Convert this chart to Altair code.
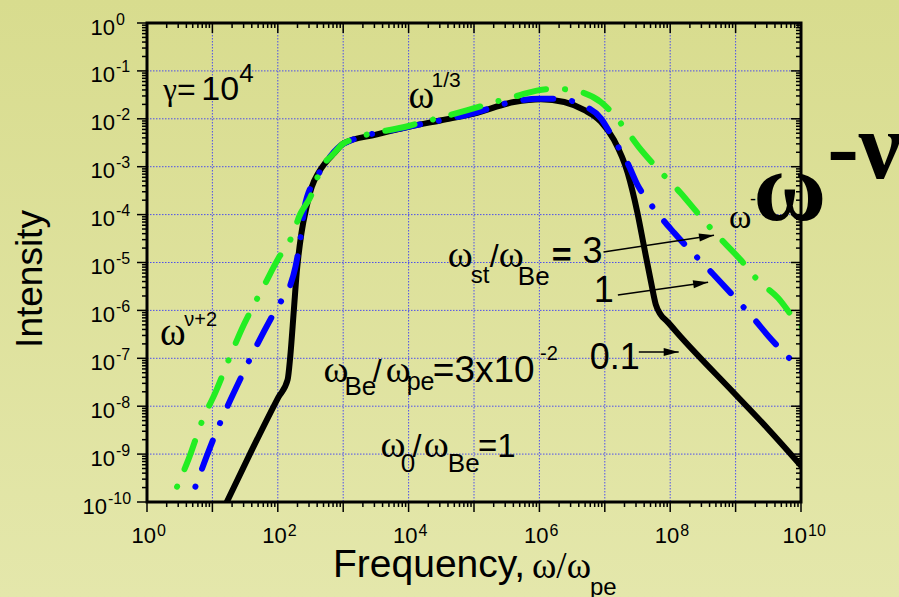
import altair as alt
import pandas as pd

# ---------------- data (log10 values) ----------------
black_logw = [1.15, 1.58, 2.01, 2.15, 2.19, 2.245, 2.29, 2.36, 2.44, 2.52, 2.62, 2.72,
              2.86, 3.01, 3.5, 4.0, 4.5, 5.0, 5.61, 6.02, 6.38, 6.69, 6.94, 7.14, 7.35,
              7.50, 7.60, 7.71, 7.78, 7.85, 7.96, 8.16, 8.98, 9.5, 10.05]
black_logI = [-10.2, -8.98, -7.81, -7.45, -6.97, -6.0, -5.2, -4.4, -3.84, -3.42, -3.13, -2.93,
              -2.72, -2.51, -2.33, -2.17, -2.03, -1.89, -1.65, -1.59, -1.65, -1.82, -2.06, -2.44, -3.13,
              -3.97, -4.67, -5.43, -5.88, -6.08, -6.24, -6.55, -7.73, -8.48, -9.32]

blue_logw = [0.74, 1.02, 1.48, 2.01, 2.19, 2.27, 2.35, 2.41, 2.60, 2.76, 3.01, 4.0, 5.0,
             5.61, 6.0, 6.27, 6.63, 6.94, 7.14, 7.35, 7.50, 7.71, 8.06, 8.62, 8.98, 9.27,
             9.51, 9.92, 10.05]
blue_logI = [-9.68, -8.67, -7.28, -5.89, -5.48, -5.09, -4.46, -3.84, -3.21, -2.86, -2.52, -2.17, -1.88,
             -1.64, -1.58, -1.58, -1.70, -1.99, -2.44, -2.93, -3.38, -3.80, -4.38, -5.19, -5.72, -6.16,
             -6.55, -7.14, -7.33]

green_logw = [0.46, 0.64, 0.84, 1.05, 1.28, 1.48, 1.62, 1.78, 2.01, 2.19, 2.35, 2.50, 2.65,
              2.86, 3.01, 4.0, 4.9, 5.61, 6.13, 6.33, 6.63, 6.94, 7.29, 7.52, 7.78, 8.16,
              8.42, 8.67, 9.08, 9.34, 9.65, 9.95, 10.05]
green_logI = [-9.68, -9.09, -8.32, -7.70, -6.93, -6.30, -5.92, -5.51, -4.91, -4.53, -3.97, -3.63, -3.07,
              -2.72, -2.51, -2.15, -1.82, -1.54, -1.38, -1.38, -1.44, -1.65, -2.17, -2.59, -3.00, -3.55,
              -3.97, -4.36, -4.95, -5.37, -5.74, -6.26, -6.38]

x_label_exps = [0, 2, 4, 6, 8]
x_label_exps2 = [10]
y_label_exps = [0, -1, -2, -3, -4, -5, -6, -7, -8, -9]
y_label_exps2 = [-10]

# annotation pieces: text, log10 x, log10 y (left / baseline), font size
sans_pieces = [
    ("=", 0.46, -1.61, 32), ("10", 0.83, -1.61, 34), ("4", 1.41, -1.23, 26),
    ("1/3", 4.35, -1.34, 21),
    ("ν+2", 0.57, -6.33, 20),
    ("st", 4.95, -5.43, 24), ("/", 5.24, -5.09, 32), ("Be", 5.67, -5.47, 26),
    ("3", 6.66, -5.01, 36), ("1", 6.83, -5.82, 36), ("0.1", 6.77, -7.22, 36),
    ("Be", 3.02, -7.77, 26), ("/", 3.45, -7.49, 32), ("pe", 3.97, -7.66, 25),
    ("=3x10", 4.37, -7.49, 37), ("-2", 6.01, -7.04, 20),
    ("0", 3.88, -9.37, 26), ("/", 4.06, -9.06, 32), ("Be", 4.60, -9.37, 26),
    ("=1", 5.06, -9.06, 33),
    ("-", 9.22, -3.80, 18),
]
sans_bold_pieces = [("=", 6.19, -5.07, 34)]
serif_pieces = [
    ("γ", 0.25, -1.61, 31), ("ω", 4.00, -1.77, 39), ("ω", 0.20, -6.72, 39),
    ("ω", 4.60, -5.09, 38), ("ω", 5.38, -5.09, 38),
    ("ω", 2.70, -7.49, 38), ("ω", 3.65, -7.49, 38),
    ("ω", 3.57, -9.06, 38), ("ω", 4.23, -9.06, 38),
    ("ω", 8.90, -4.28, 34),
]
serif_bold_pieces = [("ω", 9.27, -4.11, 100), ("-ν", 10.40, -3.24, 95)]

# arrows: from (log x, log y) to (log x, log y), head angle
arrow_from_x = [6.98, 7.20, 7.52]
arrow_from_y = [-4.78, -5.68, -6.87]
arrow_to_x = [8.67, 8.58, 8.13]
arrow_to_y = [-4.43, -5.41, -6.87]
arrow_angle = [351, 352, 0]

# ---------------- helpers ----------------
W, H = 654, 479
SANS = "Liberation Sans"
SERIF = "Liberation Serif"

xs = alt.Scale(type="log", domain=[1, 1e10], nice=False)
ys = alt.Scale(type="log", domain=[1e-10, 1], nice=False)


def X(f="x"):
    return alt.X(f"{f}:Q", scale=xs, axis=None)


def Y(f="y"):
    return alt.Y(f"{f}:Q", scale=ys, axis=None)


def curve(lw, li):
    return pd.DataFrame({"x": [10.0 ** v for v in lw], "y": [10.0 ** v for v in li],
                         "i": list(range(len(lw)))})


def line_layer(lw, li, color, dash=None):
    kw = dict(color=color, strokeWidth=6, strokeCap="round", strokeJoin="round",
              interpolate="monotone", clip=True)
    if dash:
        kw["strokeDash"] = dash
    return alt.Chart(curve(lw, li)).mark_line(**kw).encode(x=X(), y=Y(), order="i:Q")


def text_layer(pieces, font, weight="normal"):
    df = pd.DataFrame({"t": [p[0] for p in pieces],
                       "x": [10.0 ** p[1] for p in pieces],
                       "y": [10.0 ** p[2] for p in pieces],
                       "s": [p[3] for p in pieces]})
    return alt.Chart(df).mark_text(font=font, fontWeight=weight, align="left",
                                   baseline="alphabetic", color="black").encode(
        x=X(), y=Y(), text="t:N", size=alt.Size("s:Q", scale=None))


def xticks(vals, y0, y1):
    return alt.Chart(pd.DataFrame({"v": vals})).mark_rule(color="black", strokeWidth=1.5).encode(
        x=X("v"), y=alt.value(y0), y2=alt.value(y1))


def yticks(vals, x0, x1):
    return alt.Chart(pd.DataFrame({"v": vals})).mark_rule(color="black", strokeWidth=1.5).encode(
        y=Y("v"), x=alt.value(x0), x2=alt.value(x1))


def pix_text(t, px, py, size, font=SANS, angle=0, align="left"):
    return alt.Chart(pd.DataFrame({"t": [t]})).mark_text(
        font=font, fontSize=size, align=align, baseline="alphabetic", angle=angle,
        color="black").encode(x=alt.value(px), y=alt.value(py), text="t:N")


layers = []

# background gradient
layers.append(alt.Chart(pd.DataFrame({"a": [0]})).mark_rect(
    fill=alt.Gradient(gradient="linear",
                      stops=[alt.GradientStop(color="#d8dc8e", offset=0),
                             alt.GradientStop(color="#e4e7ab", offset=1)],
                      x1=0, x2=0, y1=0, y2=1)).encode(
    x=alt.value(-147), x2=alt.value(W + 98), y=alt.value(-23), y2=alt.value(H + 95)))

# grid
grid_style = dict(color="#2b2bff", strokeWidth=1, strokeDash=[1.5, 1.5], opacity=0.8)
layers.append(alt.Chart(pd.DataFrame({"v": [10.0 ** e for e in range(1, 10)]})).mark_rule(**grid_style).encode(
    x=X("v"), y=alt.value(0), y2=alt.value(H)))
layers.append(alt.Chart(pd.DataFrame({"v": [10.0 ** e for e in range(-9, 0)]})).mark_rule(**grid_style).encode(
    y=Y("v"), x=alt.value(0), x2=alt.value(W)))

# curves
dash = [0.1, 19, 30, 19]
layers.append(line_layer(black_logw, black_logI, "black"))
layers.append(line_layer(blue_logw, blue_logI, "#0000ff", dash))
layers.append(line_layer(green_logw, green_logI, "#22ee22", dash))

# ticks
x_major = [10.0 ** e for e in range(0, 11)]
x_minor = [k * 10.0 ** e for e in range(0, 10) for k in range(2, 10)]
y_major = [10.0 ** e for e in range(-10, 1)]
y_minor = [k * 10.0 ** e for e in range(-10, 0) for k in range(2, 10)]
layers += [xticks(x_major, 0, 10), xticks(x_minor, 0, 5),
           xticks(x_major, H, H + 10), xticks(x_minor, H, H + 5),
           yticks(y_major, -10, 0), yticks(y_minor, -5, 0),
           yticks(y_major, W - 10, W), yticks(y_minor, W - 5, W)]

# frame
layers.append(alt.Chart(pd.DataFrame({"a": [0]})).mark_rect(
    fillOpacity=0, stroke="black", strokeWidth=3).encode(
    x=alt.value(0), x2=alt.value(W), y=alt.value(0), y2=alt.value(H)))

# tick labels
def ylab(exps, base_x):
    df = pd.DataFrame({"v": [10.0 ** e for e in exps], "b": ["10"] * len(exps),
                       "e": [str(e) for e in exps]})
    base = alt.Chart(df).mark_text(font=SANS, fontSize=22, align="right", baseline="alphabetic",
                                   dy=11.5, color="black").encode(
        y=Y("v"), x=alt.value(base_x), text="b:N")
    ex = alt.Chart(df).mark_text(font=SANS, fontSize=16, align="left", baseline="alphabetic",
                                 dy=1.5, color="black").encode(
        y=Y("v"), x=alt.value(base_x + 1), text="e:N")
    return [base, ex]


def xlab(exps, dx):
    df = pd.DataFrame({"v": [10.0 ** e for e in exps], "b": ["10"] * len(exps),
                       "e": [str(e) for e in exps]})
    base = alt.Chart(df).mark_text(font=SANS, fontSize=22, align="right", baseline="alphabetic",
                                   dx=dx, color="black").encode(
        x=X("v"), y=alt.value(H + 41), text="b:N")
    ex = alt.Chart(df).mark_text(font=SANS, fontSize=16, align="left", baseline="alphabetic",
                                 dx=dx + 1, color="black").encode(
        x=X("v"), y=alt.value(H + 34), text="e:N")
    return [base, ex]


layers += ylab(y_label_exps, -32) + ylab(y_label_exps2, -40)
layers += xlab(x_label_exps, 9) + xlab(x_label_exps2, 6)

# annotations
layers.append(text_layer(sans_pieces, SANS))
layers.append(text_layer(sans_bold_pieces, SANS, "bold"))
layers.append(text_layer(serif_pieces, SERIF))
layers.append(text_layer(serif_bold_pieces, SERIF, "bold"))

# arrows
adf = pd.DataFrame({"x": [10.0 ** v for v in arrow_from_x], "y": [10.0 ** v for v in arrow_from_y],
                    "x2": [10.0 ** v for v in arrow_to_x], "y2": [10.0 ** v for v in arrow_to_y],
                    "a": arrow_angle})
layers.append(alt.Chart(adf).mark_rule(color="black", strokeWidth=1.5).encode(
    x=X("x"), y=Y("y"), x2="x2:Q", y2="y2:Q"))
layers.append(alt.Chart(adf).mark_point(
    shape="M0,0 L-1,-0.27 L-1,0.27 Z", filled=True, fill="black", stroke=None, size=900,
    opacity=1).encode(
    x=X("x2"), y=Y("y2"), angle=alt.Angle("a:Q", scale=None)))

# axis titles
layers.append(pix_text("Intensity", -105, 256, 37, angle=270, align="center"))
layers.append(pix_text("Frequency,", 186, H + 75, 39))
layers.append(pix_text("ω/ω", 385, H + 76, 37, font=SERIF))
layers.append(pix_text("pe", 443, H + 93, 24))

chart = alt.layer(*layers).properties(
    width=W, height=H,
    padding={"left": 147, "top": 23, "right": 98, "bottom": 95},
    autosize=alt.AutoSizeParams(type="none"),
).configure_view(stroke=None).configure(background="#dfe29e")

chart.save("out.html", embed_options={"renderer": "svg", "actions": False})
